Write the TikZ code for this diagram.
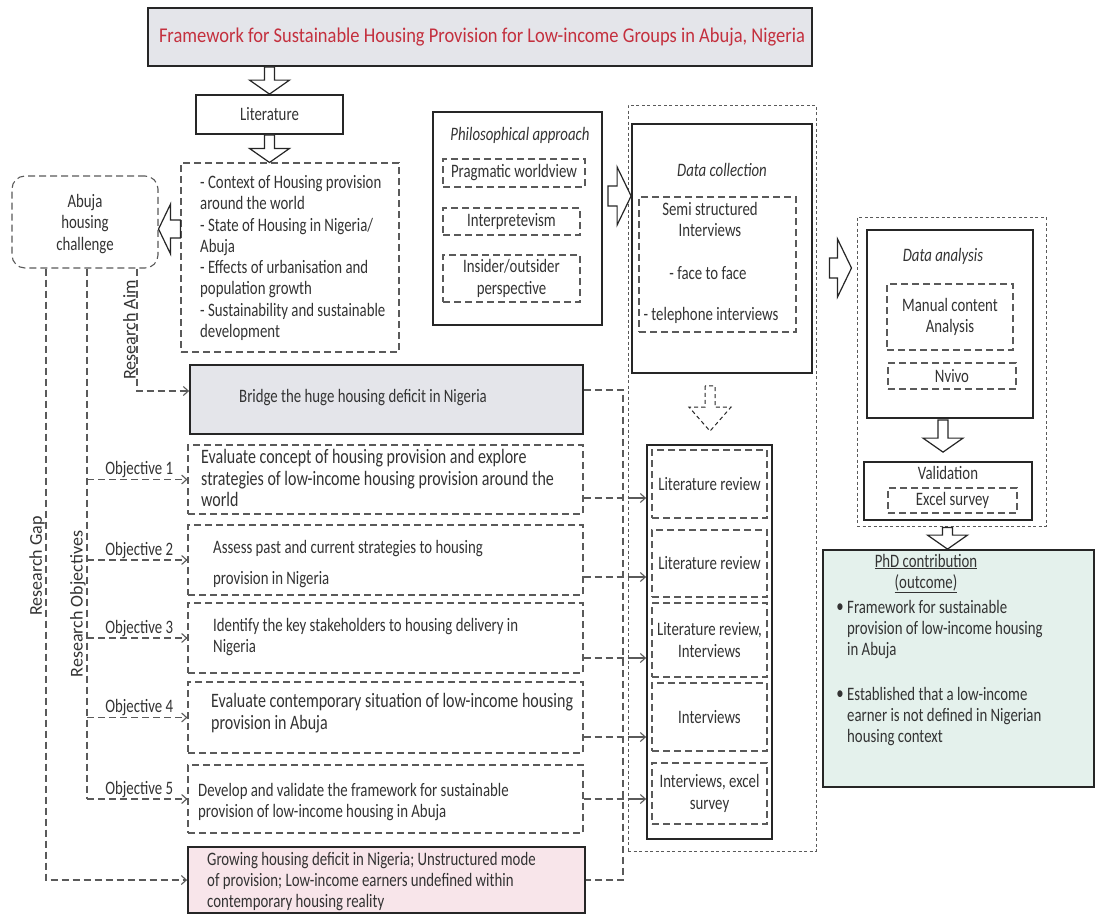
\documentclass[tikz,border=0pt]{standalone}
\usepackage{fontspec}
\setmainfont{Carlito}[FakeStretch=0.78]
\newfontfamily\titlefont{Carlito}[FakeStretch=0.88]
\newfontfamily\rotfont{Carlito}
\usetikzlibrary{arrows.meta,calc}
\definecolor{txt}{HTML}{333333}
\definecolor{dgray}{HTML}{5A5A5A}
\definecolor{titlered}{HTML}{C4303E}
\definecolor{grayfill}{HTML}{E4E5EA}
\definecolor{pinkfill}{HTML}{F8E5EA}
\definecolor{mintfill}{HTML}{E4F1EC}
\newcommand\arrD[6][]{%
  \draw[barrow,#1] let \p1=#2, \p2=#3 in
  (\x1-#4pt,\y1) -- (\x1-#4pt,\y2+#6pt) -- (\x1-#5pt,\y2+#6pt) -- (\x1,\y2) --
  (\x1+#5pt,\y2+#6pt) -- (\x1+#4pt,\y2+#6pt) -- (\x1+#4pt,\y1) -- cycle;}
\newcommand\arrR[6][]{%
  \draw[barrow,#1] let \p1=#2, \p2=#3 in
  (\x1,\y1+#4pt) -- (\x2-#6pt,\y1+#4pt) -- (\x2-#6pt,\y1+#5pt) -- (\x2,\y1) --
  (\x2-#6pt,\y1-#5pt) -- (\x2-#6pt,\y1-#4pt) -- (\x1,\y1-#4pt) -- cycle;}
\newcommand\arrL[6][]{%
  \draw[barrow,#1] let \p1=#2, \p2=#3 in
  (\x1,\y1+#4pt) -- (\x2+#6pt,\y1+#4pt) -- (\x2+#6pt,\y1+#5pt) -- (\x2,\y1) --
  (\x2+#6pt,\y1-#5pt) -- (\x2+#6pt,\y1-#4pt) -- (\x1,\y1-#4pt) -- cycle;}
\newcommand\bodyfont{\fontsize{19}{21.3}\selectfont}
\begin{document}
\begin{tikzpicture}[x=1pt,y=-1pt,
  font=\bodyfont, text=txt,
  solidbox/.style={draw=black!85, line width=1.8pt, inner sep=0pt},
  dbox/.style={draw=dgray, line width=1.1pt, dash pattern=on 7pt off 4pt, inner sep=0pt},
  dotbox/.style={draw=dgray, line width=1pt, dash pattern=on 3pt off 2.5pt, inner sep=0pt},
  conn/.style={draw=dgray, line width=1.1pt, dash pattern=on 7pt off 4pt},
  tip/.style={-{Straight Barb[length=5pt,width=9pt]}},
  solidtip/.style={draw=dgray, line width=1.1pt, -{Straight Barb[length=5pt,width=9pt]}},
  barrow/.style={draw=black!85, line width=1.2pt, fill=white, line join=miter},
  lbl/.style={inner sep=0pt, align=left},
  clbl/.style={inner sep=0pt, align=center},
  itl/.style={inner sep=0pt, align=center, font=\bodyfont\itshape},
  rlbl/.style={inner sep=1pt, rotate=90, anchor=south, font=\rotfont\fontsize{18}{20}\selectfont},
  olbl/.style={inner sep=1.5pt, anchor=south}
]
\useasboundingbox (0,0) rectangle (1102,914);
\fill[white] (0,0) rectangle (1102,914);

% ---------- boxes ----------
\node[solidbox, fill=grayfill, minimum width=664pt, minimum height=58pt] (title) at (480,37) {};
\node[text=titlered, font=\titlefont\fontsize{21}{24}\selectfont] (titletxt) at (482,37) {Framework for Sustainable Housing Provision for Low-income Groups in Abuja, Nigeria};

\node[solidbox, minimum width=147pt, minimum height=39pt] (lit) at (269.5,114.5) {Literature};

\node[dbox, minimum width=218pt, minimum height=189pt] (bul) at (290,257.5) {};
\node[lbl, anchor=west] (bultxt) at (200,258) {- Context of Housing provision\\around the world\\- State of Housing in Nigeria/\\Abuja\\- Effects of urbanisation and\\population growth\\- Sustainability and sustainable\\development};

\node[dbox, rounded corners=13pt, minimum width=146pt, minimum height=92pt] (abuja) at (85,222) {};
\node[clbl] (abujatxt) at (85,224) {Abuja\\housing\\challenge};

\node[solidbox, minimum width=169pt, minimum height=213pt] (phil) at (517.5,218.5) {};
\node[itl] (philtxt) at (520,135) {Philosophical approach};
\node[dbox, minimum width=142pt, minimum height=28pt] (prag) at (514,173) {Pragmatic worldview};
\node[dbox, minimum width=137pt, minimum height=27pt] (interp) at (511.5,221.5) {Interpretevism};
\node[dbox, minimum width=137pt, minimum height=47pt, align=center] (insider) at (511.5,278.5) {Insider/outsider\\perspective};

\node[dotbox, minimum width=188pt, minimum height=746pt] (dcout) at (722,478) {};
\node[solidbox, minimum width=180pt, minimum height=249pt] (dc) at (722,248.5) {};
\node[itl] (dctxt) at (722,170) {Data collection};
\node[dbox, minimum width=157pt, minimum height=135pt] (dcin) at (717.5,264.5) {};
\node[clbl] (semi) at (710,219.5) {Semi structured\\Interviews};
\node[clbl] (f2f) at (708,273) {- face to face};
\node[clbl] (tel) at (711,315) {- telephone interviews};

\node[solidbox, minimum width=125pt, minimum height=394pt] (meth) at (709.5,642) {};
\node[dbox, minimum width=115pt, minimum height=68pt] (m1) at (709.5,484) {Literature review};
\node[dbox, minimum width=115pt, minimum height=67pt] (m2) at (709.5,563.5) {Literature review};
\node[dbox, minimum width=115pt, minimum height=74pt, align=center] (m3) at (709.5,640) {Literature review,\\Interviews};
\node[dbox, minimum width=115pt, minimum height=68pt] (m4) at (709.5,717) {Interviews};
\node[dbox, minimum width=115pt, minimum height=61pt, align=center] (m5) at (709.5,793.5) {Interviews, excel\\survey};

\node[dotbox, minimum width=189pt, minimum height=309pt] (daout) at (951.5,371.5) {};
\node[solidbox, minimum width=166pt, minimum height=188pt] (da) at (950,324) {};
\node[itl] (datxt) at (943,256) {Data analysis};
\node[dbox, minimum width=126pt, minimum height=66pt, align=center] (manual) at (950,317) {Manual content\\Analysis};
\node[dbox, minimum width=128pt, minimum height=26pt] (nvivo) at (952,376) {Nvivo};

\node[solidbox, minimum width=168pt, minimum height=58pt] (valid) at (948,491) {};
\node[clbl] (validtxt) at (948,473) {Validation};
\node[dbox, minimum width=129pt, minimum height=25pt] (excel) at (952.5,500.5) {Excel survey};

\node[solidbox, fill=mintfill, minimum width=271pt, minimum height=237pt] (phd) at (958.5,668.5) {};
\node[clbl] (phdtxt) at (926,573.5) {\underline{PhD contribution}\\\underline{(outcome)}};
\node[inner sep=0pt] (b1) at (840,608) {•};
\node[lbl, anchor=west] (phd1) at (847,629.5) {Framework for sustainable\\provision of low-income housing\\in Abuja};
\node[inner sep=0pt] (b2) at (840,695) {•};
\node[lbl, anchor=west] (phd2) at (847,716.5) {Established that a low-income\\earner is not defined in Nigerian\\housing context};

\node[solidbox, fill=grayfill, minimum width=393pt, minimum height=69pt] (bridge) at (386.5,399.5) {};
\node[clbl] (bridgetxt) at (363,398) {Bridge the huge housing deficit in Nigeria};

\node[dbox, minimum width=395pt, minimum height=69pt] (o1) at (385.5,479.5) {};
\node[lbl, anchor=west, font=\fontsize{20.5}{21.3}\selectfont] (o1t) at (201,478) {Evaluate concept of housing provision and explore\\strategies of low-income housing provision around the\\world};
\node[dbox, minimum width=395pt, minimum height=70pt] (o2) at (385.5,560) {};
\node[lbl, anchor=west, font=\fontsize{19}{31}\selectfont] (o2t) at (213,564.5) {Assess past and current strategies to housing\\provision in Nigeria};
\node[dbox, minimum width=395pt, minimum height=70pt] (o3) at (385.5,638) {};
\node[lbl, anchor=west] (o3t) at (213,637) {Identify the key stakeholders to housing delivery in\\Nigeria};
\node[dbox, minimum width=395pt, minimum height=71pt] (o4) at (385.5,717.5) {};
\node[lbl, anchor=west, font=\fontsize{20.5}{21.3}\selectfont] (o4t) at (211,713) {Evaluate contemporary situation of low-income housing\\provision in Abuja};
\node[dbox, minimum width=395pt, minimum height=68pt] (o5) at (385.5,799) {};
\node[lbl, anchor=west] (o5t) at (198,802) {Develop and validate the framework for sustainable\\provision of low-income housing in Abuja};

\node[solidbox, fill=pinkfill, minimum width=397pt, minimum height=66pt] (pink) at (386.5,880) {};
\node[lbl, anchor=west] (pinkt) at (207,881.5) {Growing housing deficit in Nigeria; Unstructured mode\\of provision; Low-income earners undefined within\\contemporary housing reality};

% ---------- helper coordinates ----------
\coordinate (gapx) at (46,0);
\coordinate (objx) at (87,0);
\coordinate (aimx) at (137,0);
\coordinate (busx) at (623,0);
\coordinate (aimy) at (0,391);
\coordinate (aL) at (0,229);
\coordinate (aP) at (0,196);
\coordinate (aD) at (0,268);
\coordinate (y1) at (0,498);
\coordinate (y2) at (0,577);
\coordinate (y3) at (0,658);
\coordinate (y4) at (0,737);
\coordinate (y5) at (0,799);

% ---------- left-side connectors ----------
\draw[conn, tip] (abuja.south -| gapx) |- (pink.west);
\node[rlbl] (gaplbl) at (46,566) {Research Gap};

\draw[conn] (abuja.south -| objx) -- (objx |- o5.west);
\node[rlbl] (objlbl) at (87,604) {Research Objectives};
\foreach \o/\n in {o1/1,o2/2,o3/3,o4/4,o5/5}{
  \draw[conn, tip] (objx |- \o.west) -- (\o.west);
  \node[olbl] at ($(objx |- \o.west)!0.52!(\o.west)$) {Objective \n};
}

\draw[conn, tip] (abuja.south -| aimx) |- (bridge.west |- aimy);
\node[rlbl] (aimlbl) at (137,330) {Research Aim};

% ---------- bracket bridge / pink ----------
\draw[conn] (bridge.east |- 0,390) -| (busx |- pink.east) -- (pink.east);

% ---------- objective to method arrows ----------
\foreach \o/\yy in {o1/y1,o2/y2,o3/y3,o4/y4,o5/y5}{
  \draw[conn] (\o.east |- \yy) -- (dcout.west |- \yy);
  \draw[solidtip] (dcout.west |- \yy) -- (meth.west |- \yy);
}

% ---------- block arrows ----------
\arrD{(title.south -| lit.north)}{(lit.north)}{5}{20}{14}
\arrD{(lit.south)}{(lit.south |- bul.north)}{5}{20}{14}
\arrL{(bul.west |- aL)}{(abuja.east |- aL)}{9}{25}{12}
\arrR{($(phil.east |- aP)+(5,0)$)}{(dc.west |- aP)}{10}{29}{14}
\arrD[dash pattern=on 4pt off 3pt, line width=1pt]{($(dc.south)+(-12,12)$)}{($(meth.north)+(0,-13)$)}{5}{21}{24}
\arrR{($(dcout.east |- aD)+(13,0)$)}{($(daout.west |- aD)+(-5,0)$)}{10}{29}{14}
\arrD{($(da.south)+(-7,1)$)}{($(valid.north)+(0,-9)$)}{5}{20}{14}
\arrD{($(daout.south)+(-4,1)$)}{(phd.north)}{5}{20}{14}
\end{tikzpicture}
\end{document}
